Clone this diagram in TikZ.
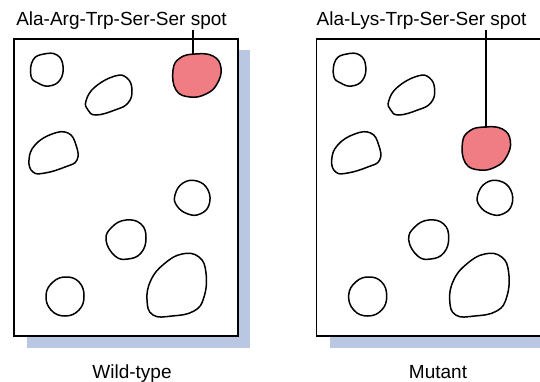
\documentclass[tikz,border=0pt]{standalone}
\usepackage{fontspec}
\setmainfont{Liberation Sans}
\definecolor{spotred}{HTML}{F07C84}
\definecolor{backblue}{HTML}{B9C7E3}
\tikzset{
  sheet/.style={draw, line width=1.1pt, fill=white},
  backing/.style={fill=backblue},
  spot/.style={draw, line width=1.5pt, line join=round},
  hit/.style={spot, fill=spotred},
  lbl/.style={font=\fontsize{19}{22}\selectfont, inner sep=1pt},
}
\newcommand{\blob}[1]{plot[smooth cycle, tension=0.75] coordinates {#1}}

\begin{document}
\begin{tikzpicture}[x=1pt, y=-1pt]
\clip (0,0) rectangle (540,381);

% two sheets, same spots
\foreach \dx in {0, 302.7} {
  \begin{scope}[xshift=\dx pt]
  \path[backing] (27,50) rectangle (250,348);
  \draw[sheet] (14,39) rectangle (238,336);
  \draw[spot] \blob{(31,76) (33,60) (44,54) (57,55) (63,66) (60,80) (49,86) (38,83)};
  \draw[spot] \blob{(86,101) (95,87) (115,76) (127,78) (132,90) (128,103) (115,110) (96,115) (88,110)};
  \draw[spot] \blob{(29,160) (35,145) (52,134) (68,133) (76,145) (77,160) (65,167) (45,173) (33,172)};
  \draw[spot] \blob{(175,195) (183,183) (197,181) (208,190) (209,205) (200,214) (188,214) (177,206)};
  \draw[spot] \blob{(106,240) (112,227) (126,220) (141,224) (146,238) (141,253) (128,259) (115,256)};
  \draw[spot] \blob{(46,295) (53,282) (66,277) (79,282) (84,296) (79,310) (65,316) (51,310)};
  \draw[spot] \blob{(147,300) (151,280) (164,264) (182,254) (199,257) (206,273) (204,297) (194,311) (172,316) (153,315)};
  \end{scope}
}

% the peptide spots
\draw[hit] \blob{(173,70) (180,58) (195,54) (213,56) (221,68) (217,84) (206,94) (190,97) (176,90)};
\coordinate (wtspot) at (193,54.5);
\begin{scope}[shift={(289.4,73)}]
  \draw[hit] \blob{(173,70) (180,58) (195,54) (213,56) (221,68) (217,84) (206,94) (190,97) (176,90)};
  \coordinate (muspot) at (196.6,54.5);
\end{scope}

% labels
\node[lbl, anchor=base] (wtname) at (121.5,25) {Ala-Arg-Trp-Ser-Ser spot};
\node[lbl, anchor=base] (muname) at (421.5,25) {Ala-Lys-Trp-Ser-Ser spot};
\node[lbl, anchor=base] (wt) at (132,378) {Wild-type};
\node[lbl, anchor=base] (mu) at (438,378) {Mutant};

% leader lines
\draw[line width=1.1pt] (wtname.south -| wtspot) -- (wtspot);
\draw[line width=1.1pt] (muname.south -| muspot) -- (muspot);
\end{tikzpicture}
\end{document}
